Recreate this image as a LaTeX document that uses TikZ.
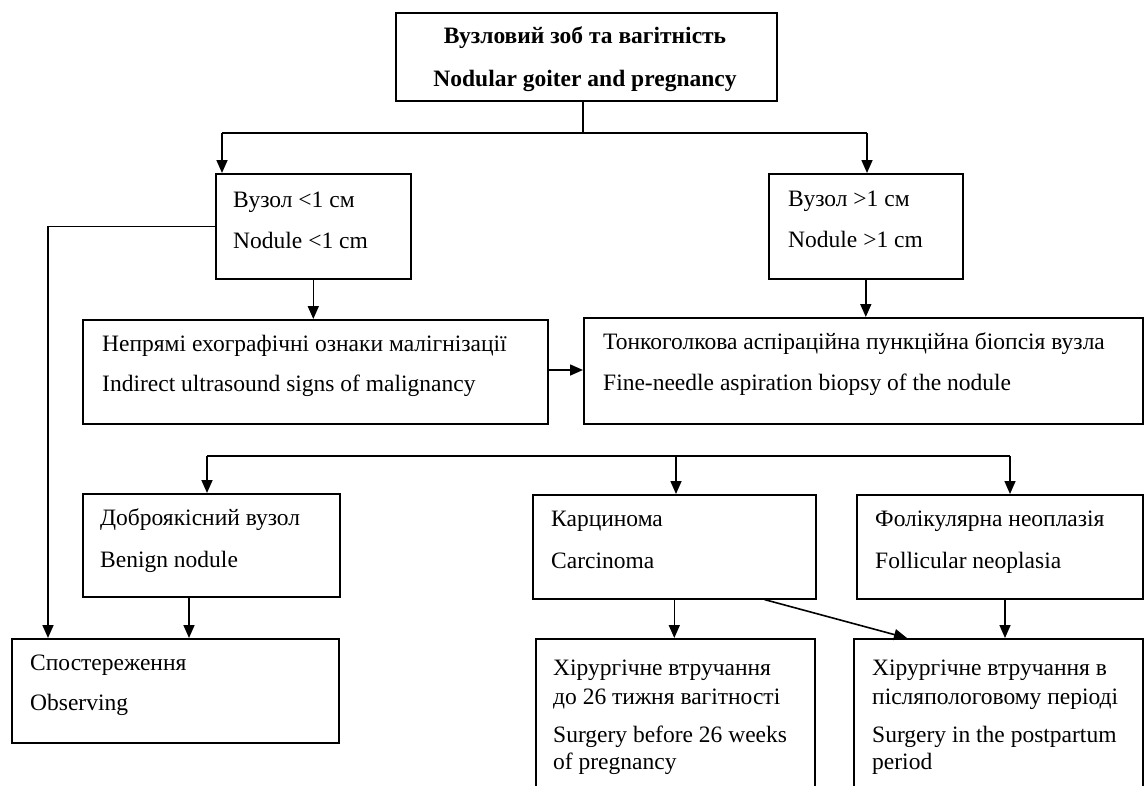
\documentclass[tikz,border=0pt]{standalone}
\usepackage{fontspec}
\setmainfont{Liberation Serif}
\usetikzlibrary{arrows.meta}
\begin{document}
\begin{tikzpicture}[x=1pt,y=-1pt,
  box/.style={draw, line width=1.6pt, inner sep=0pt, anchor=north west},
  lbl/.style={anchor=base west, inner sep=0pt, font=\fontsize{23.5}{28}\selectfont},
  ttl/.style={anchor=base, inner sep=0pt, font=\fontsize{23.5}{28}\selectfont\bfseries},
  arr/.style={line width=1.6pt, -{Triangle[length=13pt,width=11pt]}},
  ln/.style={line width=1.6pt}]
\clip (0,0) rectangle (1144,785);
\fill[white] (0,0) rectangle (1144,785);
% boxes
\node[box, minimum width=381pt, minimum height=88pt] (T) at (395,12) {};
\node[box, minimum width=195pt, minimum height=105pt] (A) at (215,173) {};
\node[box, minimum width=194pt, minimum height=105pt] (B) at (768,173) {};
\node[box, minimum width=465pt, minimum height=104pt] (C) at (82,319) {};
\node[box, minimum width=559pt, minimum height=106pt] (D) at (583,317) {};
\node[box, minimum width=257pt, minimum height=103pt] (E) at (82,493) {};
\node[box, minimum width=283pt, minimum height=104pt] (F) at (532,494) {};
\node[box, minimum width=286pt, minimum height=104pt] (G) at (856,494) {};
\node[box, minimum width=327pt, minimum height=104pt] (H) at (11,638) {};
\node[box, minimum width=279pt, minimum height=180pt] (I) at (535,638) {};
\node[box, minimum width=289pt, minimum height=180pt] (J) at (853,638) {};
% texts
\node[ttl] (t1) at (585,43) {Вузловий зоб та вагітність};
\node[ttl] (t2) at (585,86) {Nodular goiter and pregnancy};
\node[lbl] (a1) at (233,207) {Вузол <1 см};
\node[lbl] (a2) at (233,248) {Nodule <1 cm};
\node[lbl] (b1) at (788,206) {Вузол >1 см};
\node[lbl] (b2) at (788,247) {Nodule >1 cm};
\node[lbl] (c1) at (102,351) {Непрямі ехографічні ознаки малігнізації};
\node[lbl] (c2) at (102,391) {Indirect ultrasound signs of malignancy};
\node[lbl] (d1) at (603,349) {Тонкоголкова аспіраційна пункційна біопсія вузла};
\node[lbl] (d2) at (603,390) {Fine-needle aspiration biopsy of the nodule};
\node[lbl] (e1) at (100,525) {Доброякісний вузол};
\node[lbl] (e2) at (100,567) {Benign nodule};
\node[lbl] (f1) at (551,526) {Карцинома};
\node[lbl] (f2) at (551,568) {Carcinoma};
\node[lbl] (g1) at (875,526) {Фолікулярна неоплазія};
\node[lbl] (g2) at (875,568) {Follicular neoplasia};
\node[lbl] (h1) at (30,670) {Спостереження};
\node[lbl] (h2) at (30,710) {Observing};
\node[lbl] (i1) at (553,675) {Хірургічне втручання};
\node[lbl] (i2) at (553,704) {до 26 тижня вагітності};
\node[lbl] (i3) at (553,742) {Surgery before 26 weeks};
\node[lbl] (i4) at (553,769) {of pregnancy};
\node[lbl] (j1) at (872,675) {Хірургічне втручання в};
\node[lbl] (j2) at (872,704) {післяпологовому періоді};
\node[lbl] (j3) at (872,742) {Surgery in the postpartum};
\node[lbl] (j4) at (872,769) {period};
% top branch
\coordinate (tb) at (583,133);
\coordinate (tbl) at (222,133);
\coordinate (tbr) at (867,133);
\draw[ln] (T.south -| tb) -- (tb);
\draw[ln] (tbl) -- (tbr);
\draw[arr] (tbl) -- (tbl |- A.north);
\draw[arr] (tbr) -- (tbr |- B.north);
% left line to observing
\coordinate (lc) at (48,638);
\draw[arr] (A.west) -| (lc);
% A -> C, B -> D, C -> D
\draw[arr] (A.south) -- (A.south |- C.north);
\draw[arr] (B.south) -- (B.south |- D.north);
\coordinate (cd) at (0,370);
\draw[arr] (C.east |- cd) -- (D.west |- cd);
% lower branch
\coordinate (bl) at (207,456);
\coordinate (bm) at (676,456);
\coordinate (br) at (1010,456);
\draw[ln] (bl) -- (br);
\draw[arr] (bl) -- (bl |- E.north);
\draw[arr] (bm) -- (bm |- F.north);
\draw[arr] (br) -- (br |- G.north);
% to bottom row
\coordinate (eh) at (189,0);
\draw[arr] (E.south -| eh) -- (H.north -| eh);
\draw[arr] (F.south) -- (F.south |- I.north);
\draw[arr] ([xshift=-52pt]F.south east) -- ([xshift=54pt]J.north west);
\coordinate (gj) at (1005,0);
\draw[arr] (G.south -| gj) -- (J.north -| gj);
\end{tikzpicture}
\end{document}
